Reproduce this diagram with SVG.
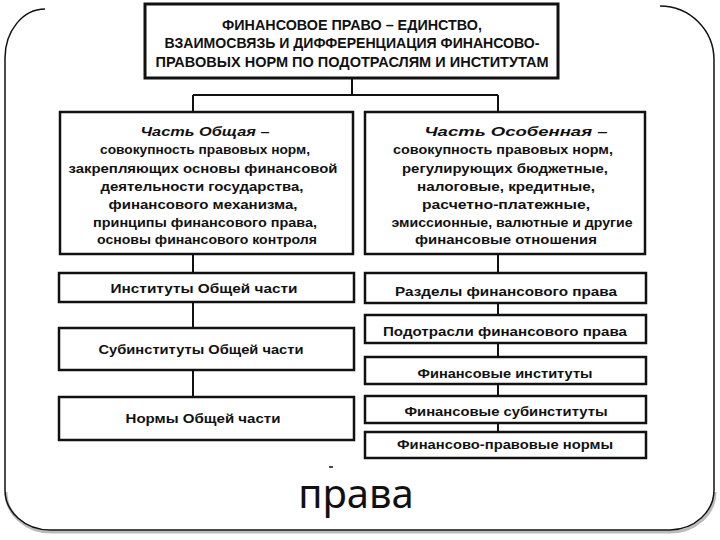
<svg xmlns="http://www.w3.org/2000/svg" width="720" height="540" viewBox="0 0 720 540">
<style>
.box{fill:#fff;stroke:#111;stroke-width:2.5}
.top{fill:#fff;stroke:#111;stroke-width:3}
.t{font-family:"Liberation Sans",Arial,sans-serif;font-weight:bold;font-size:13.5px;fill:#111;text-anchor:middle}
.h{font-family:"Liberation Sans",Arial,sans-serif;font-weight:bold;font-size:14px;fill:#111;text-anchor:middle}
.i{font-style:italic}
.con{stroke:#111;stroke-width:2;fill:none}
.frame{fill:none;stroke:#111;stroke-width:1.5}
.shadow{fill:none;stroke:#bbb;stroke-width:3}
</style>
<rect width="720" height="540" fill="#fff"/>
<path class="shadow" d="M6,492 A45,40 0 0 0 51,532 L670,532 A45,40 0 0 0 715,492"/>
<path class="frame" d="M45,9 A40,49 0 0 0 5,58 L5,490 A45,40 0 0 0 50,530 L670,530 A45,40 0 0 0 714,490 L714,60 A54,54 0 0 0 660,6"/>
<g id="connectors">
<path class="con" d="M352,78 V95 M193,95 H498 M193,95 V112 M498,95 V112"/>
<path class="con" d="M193,254 V273 M193,302 V328 M193,370 V397"/>
<path class="con" d="M498,254 V273 M498,303 V315 M498,343 V357 M498,384 V396 M498,423 V432"/>
</g>
<g id="n-top">
<rect class="top" x="145" y="4" width="413" height="74"/>
<text class="h" x="352" y="30" textLength="260" lengthAdjust="spacingAndGlyphs">ФИНАНСОВОЕ ПРАВО – ЕДИНСТВО,</text>
<text class="h" x="352" y="48" textLength="375" lengthAdjust="spacingAndGlyphs">ВЗАИМОСВЯЗЬ И ДИФФЕРЕНЦИАЦИЯ ФИНАНСОВО-</text>
<text class="h" x="352" y="67" textLength="393" lengthAdjust="spacingAndGlyphs">ПРАВОВЫХ НОРМ ПО ПОДОТРАСЛЯМ И ИНСТИТУТАМ</text>
</g>
<g id="n-general">
<rect class="box" x="60" y="112" width="293" height="142"/>
<text class="t i" x="205" y="136" textLength="129" lengthAdjust="spacingAndGlyphs">Часть Общая –</text>
<text class="t" x="205" y="154" textLength="210" lengthAdjust="spacingAndGlyphs">совокупность правовых норм,</text>
<text class="t" x="203" y="173" textLength="269" lengthAdjust="spacingAndGlyphs">закрепляющих основы финансовой</text>
<text class="t" x="202" y="191" textLength="203" lengthAdjust="spacingAndGlyphs">деятельности государства,</text>
<text class="t" x="203" y="209" textLength="189" lengthAdjust="spacingAndGlyphs">финансового механизма,</text>
<text class="t" x="205" y="227" textLength="224" lengthAdjust="spacingAndGlyphs">принципы финансового права,</text>
<text class="t" x="207" y="244" textLength="220" lengthAdjust="spacingAndGlyphs">основы финансового контроля</text>
</g>
<g id="n-special">
<rect class="box" x="365" y="112" width="280" height="142"/>
<text class="t i" x="516" y="136" textLength="183" lengthAdjust="spacingAndGlyphs">Часть Особенная –</text>
<text class="t" x="503" y="154" textLength="220" lengthAdjust="spacingAndGlyphs">совокупность правовых норм,</text>
<text class="t" x="505" y="173" textLength="206" lengthAdjust="spacingAndGlyphs">регулирующих бюджетные,</text>
<text class="t" x="506" y="191" textLength="178" lengthAdjust="spacingAndGlyphs">налоговые, кредитные,</text>
<text class="t" x="506" y="209" textLength="168" lengthAdjust="spacingAndGlyphs">расчетно-платежные,</text>
<text class="t" x="512" y="227" textLength="241" lengthAdjust="spacingAndGlyphs">эмиссионные, валютные и другие</text>
<text class="t" x="506" y="244" textLength="182" lengthAdjust="spacingAndGlyphs">финансовые отношения</text>
</g>
<g id="n-l1">
<rect class="box" x="59" y="273" width="295" height="29"/>
<text class="t" x="204" y="293" textLength="187" lengthAdjust="spacingAndGlyphs">Институты Общей части</text>
</g>
<g id="n-l2">
<rect class="box" x="59" y="328" width="295" height="42"/>
<text class="t" x="201" y="354" textLength="205" lengthAdjust="spacingAndGlyphs">Субинституты Общей части</text>
</g>
<g id="n-l3">
<rect class="box" x="59" y="397" width="295" height="43"/>
<text class="t" x="203" y="423" textLength="155" lengthAdjust="spacingAndGlyphs">Нормы Общей части</text>
</g>
<g id="n-r1">
<rect class="box" x="365" y="273" width="281" height="30"/>
<text class="t" x="506" y="296" textLength="222" lengthAdjust="spacingAndGlyphs">Разделы финансового права</text>
</g>
<g id="n-r2">
<rect class="box" x="365" y="315" width="281" height="28"/>
<text class="t" x="505" y="336" textLength="244" lengthAdjust="spacingAndGlyphs">Подотрасли финансового права</text>
</g>
<g id="n-r3">
<rect class="box" x="365" y="357" width="281" height="27"/>
<text class="t" x="505" y="378" textLength="175" lengthAdjust="spacingAndGlyphs">Финансовые институты</text>
</g>
<g id="n-r4">
<rect class="box" x="365" y="396" width="281" height="27"/>
<text class="t" x="506" y="416" textLength="203" lengthAdjust="spacingAndGlyphs">Финансовые субинституты</text>
</g>
<g id="n-r5">
<rect class="box" x="365" y="432" width="281" height="26"/>
<text class="t" x="505" y="449" textLength="216" lengthAdjust="spacingAndGlyphs">Финансово-правовые нормы</text>
</g>
<line x1="329" y1="467" x2="333" y2="467" stroke="#111" stroke-width="1.5"/>
<text x="356" y="508" font-family="Noto Sans, sans-serif" font-size="40" fill="#111" text-anchor="middle">права</text>
</svg>
